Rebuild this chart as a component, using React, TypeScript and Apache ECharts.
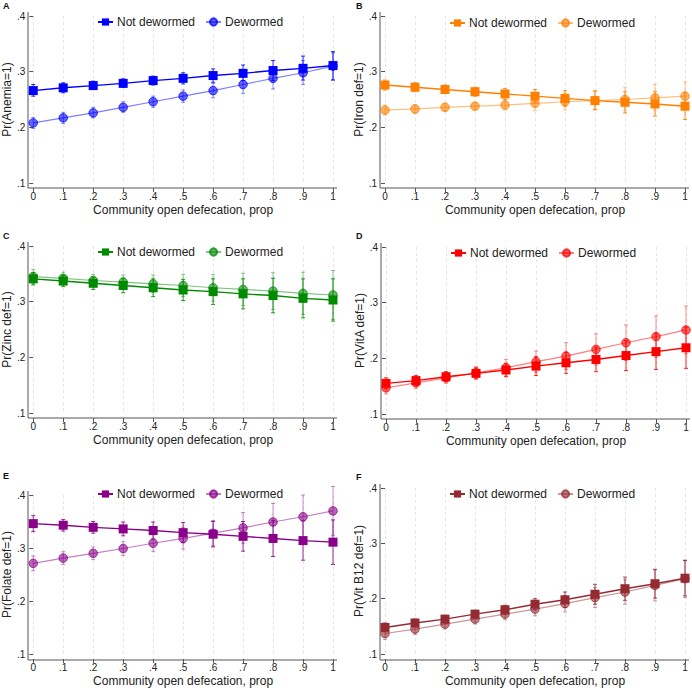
import React, { useEffect, useRef } from "react";
import * as echarts from "echarts";

// x categories (community open defecation proportion)
const xs = [0, 0.1, 0.2, 0.3, 0.4, 0.5, 0.6, 0.7, 0.8, 0.9, 1];
const groupNames = ["Not dewormed", "Dewormed"];
const xTitle = "Community open defecation, prop";
const yTicks = [0.1, 0.2, 0.3, 0.4];

// A: Anemia
const anemiaND = [0.266, 0.271, 0.275, 0.279, 0.284, 0.288, 0.293, 0.297, 0.302, 0.306, 0.311];
const anemiaNDLo = [0.256, 0.262, 0.268, 0.272, 0.276, 0.278, 0.281, 0.284, 0.284, 0.285, 0.285];
const anemiaNDHi = [0.277, 0.280, 0.283, 0.287, 0.292, 0.298, 0.305, 0.312, 0.320, 0.328, 0.336];
const anemiaD = [0.208, 0.217, 0.226, 0.236, 0.246, 0.256, 0.266, 0.277, 0.288, 0.298, 0.310];
const anemiaDLo = [0.198, 0.207, 0.217, 0.227, 0.236, 0.245, 0.253, 0.261, 0.269, 0.277, 0.285];
const anemiaDHi = [0.218, 0.227, 0.236, 0.246, 0.256, 0.267, 0.279, 0.292, 0.306, 0.320, 0.334];

// B: Iron
const ironND = [0.276, 0.272, 0.268, 0.264, 0.260, 0.256, 0.252, 0.248, 0.245, 0.242, 0.238];
const ironNDLo = [0.267, 0.264, 0.261, 0.256, 0.250, 0.244, 0.238, 0.232, 0.226, 0.220, 0.214];
const ironNDHi = [0.285, 0.280, 0.276, 0.272, 0.270, 0.268, 0.266, 0.265, 0.264, 0.264, 0.263];
const ironD = [0.231, 0.233, 0.236, 0.238, 0.240, 0.243, 0.246, 0.248, 0.250, 0.253, 0.256];
const ironDLo = [0.222, 0.225, 0.229, 0.231, 0.231, 0.230, 0.231, 0.231, 0.230, 0.230, 0.230];
const ironDHi = [0.240, 0.241, 0.243, 0.245, 0.249, 0.256, 0.262, 0.266, 0.272, 0.277, 0.282];

// C: Zinc
const zincND = [0.341, 0.337, 0.333, 0.329, 0.325, 0.321, 0.318, 0.314, 0.311, 0.306, 0.303];
const zincNDLo = [0.330, 0.327, 0.322, 0.316, 0.309, 0.302, 0.295, 0.287, 0.280, 0.271, 0.265];
const zincNDHi = [0.352, 0.347, 0.344, 0.342, 0.341, 0.340, 0.341, 0.341, 0.342, 0.341, 0.341];
const zincD = [0.345, 0.342, 0.338, 0.335, 0.332, 0.329, 0.325, 0.322, 0.319, 0.315, 0.312];
const zincDLo = [0.332, 0.331, 0.327, 0.322, 0.316, 0.309, 0.301, 0.293, 0.286, 0.277, 0.268];
const zincDHi = [0.358, 0.353, 0.349, 0.348, 0.348, 0.349, 0.349, 0.351, 0.352, 0.353, 0.356];

// D: Vitamin A
const vitaND = [0.155, 0.160, 0.167, 0.173, 0.179, 0.186, 0.192, 0.198, 0.205, 0.212, 0.219];
const vitaNDLo = [0.145, 0.151, 0.158, 0.163, 0.167, 0.169, 0.173, 0.176, 0.178, 0.180, 0.182];
const vitaNDHi = [0.165, 0.169, 0.176, 0.183, 0.191, 0.203, 0.211, 0.220, 0.232, 0.244, 0.256];
const vitaD = [0.147, 0.156, 0.165, 0.174, 0.183, 0.194, 0.204, 0.216, 0.228, 0.239, 0.251];
const vitaDLo = [0.136, 0.146, 0.155, 0.163, 0.168, 0.175, 0.180, 0.188, 0.196, 0.202, 0.208];
const vitaDHi = [0.158, 0.166, 0.175, 0.185, 0.198, 0.213, 0.228, 0.244, 0.260, 0.276, 0.294];

// E: Folate
const folateND = [0.346, 0.343, 0.339, 0.336, 0.333, 0.329, 0.326, 0.322, 0.318, 0.314, 0.311];
const folateNDLo = [0.331, 0.332, 0.328, 0.323, 0.317, 0.310, 0.302, 0.294, 0.284, 0.277, 0.269];
const folateNDHi = [0.361, 0.354, 0.350, 0.349, 0.349, 0.348, 0.350, 0.350, 0.352, 0.351, 0.353];
const folateD = [0.271, 0.281, 0.290, 0.299, 0.309, 0.318, 0.328, 0.338, 0.349, 0.359, 0.370];
const folateDLo = [0.257, 0.269, 0.278, 0.286, 0.293, 0.298, 0.304, 0.309, 0.314, 0.318, 0.324];
const folateDHi = [0.285, 0.293, 0.302, 0.312, 0.325, 0.338, 0.352, 0.367, 0.384, 0.400, 0.416];

// F: Vitamin B12
const b12ND = [0.148, 0.156, 0.163, 0.172, 0.180, 0.190, 0.198, 0.208, 0.218, 0.227, 0.237];
const b12NDLo = [0.140, 0.149, 0.156, 0.165, 0.172, 0.180, 0.184, 0.190, 0.197, 0.201, 0.205];
const b12NDHi = [0.156, 0.163, 0.170, 0.179, 0.188, 0.200, 0.212, 0.226, 0.239, 0.253, 0.269];
const b12D = [0.137, 0.145, 0.154, 0.163, 0.172, 0.181, 0.191, 0.202, 0.212, 0.224, 0.236];
const b12DLo = [0.126, 0.135, 0.145, 0.154, 0.162, 0.169, 0.176, 0.184, 0.190, 0.196, 0.202];
const b12DHi = [0.148, 0.155, 0.163, 0.172, 0.182, 0.193, 0.206, 0.220, 0.234, 0.252, 0.270];

const panels = [
  { key: "A", yTitle: "Pr(Anemia=1)", color: "#0000ff", nd: [anemiaND, anemiaNDLo, anemiaNDHi], d: [anemiaD, anemiaDLo, anemiaDHi], left: 33, top: 16, height: 167, legendY: 23, letter: [3, 1] },
  { key: "B", yTitle: "Pr(Iron def=1)", color: "#ff7f00", nd: [ironND, ironNDLo, ironNDHi], d: [ironD, ironDLo, ironDHi], left: 385, top: 16, height: 167, legendY: 24, letter: [356, 1] },
  { key: "C", yTitle: "Pr(Zinc def=1)", color: "#008a00", nd: [zincND, zincNDLo, zincNDHi], d: [zincD, zincDLo, zincDHi], left: 33, top: 246, height: 167, legendY: 253, letter: [3, 231] },
  { key: "D", yTitle: "Pr(VitA def=1)", color: "#ff0000", nd: [vitaND, vitaNDLo, vitaNDHi], d: [vitaD, vitaDLo, vitaDHi], left: 386, top: 247, height: 167, legendY: 254, letter: [356, 231] },
  { key: "E", yTitle: "Pr(Folate def=1)", color: "#8a008a", nd: [folateND, folateNDLo, folateNDHi], d: [folateD, folateDLo, folateDHi], left: 33, top: 495, height: 160, legendY: 495, letter: [3, 471] },
  { key: "F", yTitle: "Pr(Vit B12 def=1)", color: "#952b32", nd: [b12ND, b12NDLo, b12NDHi], d: [b12D, b12DLo, b12DHi], left: 385, top: 488, height: 167, legendY: 495, letter: [356, 472] },
];

const PLOT_W = 300;
const FONT = "'Liberation Sans', Arial, Helvetica, sans-serif";

function rgba(hex: string, a: number) {
  const n = parseInt(hex.slice(1), 16);
  return `rgba(${(n >> 16) & 255},${(n >> 8) & 255},${n & 255},${a})`;
}

function fmtTick(v: number) {
  const s = (Math.round(v * 10) / 10).toString();
  return s.startsWith("0.") ? s.slice(1) : s;
}

function errSeries(i: number, lo: number[], hi: number[], color: string, z: number) {
  return {
    type: "custom",
    xAxisIndex: i,
    yAxisIndex: i,
    z,
    silent: true,
    data: xs.map((x, k) => [x, lo[k], hi[k]]),
    encode: { x: 0, y: [1, 2] },
    renderItem: (params: any, api: any) => {
      const x = api.value(0);
      const a = api.coord([x, api.value(1)]);
      const b = api.coord([x, api.value(2)]);
      const c = 2;
      const style = { stroke: color, lineWidth: 1 };
      return {
        type: "group",
        children: [
          { type: "line", shape: { x1: a[0], y1: a[1], x2: b[0], y2: b[1] }, style },
          { type: "line", shape: { x1: a[0] - c, y1: a[1], x2: a[0] + c, y2: a[1] }, style },
          { type: "line", shape: { x1: b[0] - c, y1: b[1], x2: b[0] + c, y2: b[1] }, style },
        ],
      };
    },
  };
}

function buildOption() {
  const grid: any[] = [];
  const xAxis: any[] = [];
  const yAxis: any[] = [];
  const series: any[] = [];
  const legend: any[] = [];
  const graphic: any[] = [];

  panels.forEach((p, i) => {
    grid.push({ left: p.left, top: p.top, width: PLOT_W, height: p.height });
    xAxis.push({
      gridIndex: i,
      type: "value",
      min: 0,
      max: 1,
      interval: 0.1,
      offset: 5,
      axisLine: { show: false },
      axisTick: { show: true, length: 4, lineStyle: { color: "#555" } },
      axisLabel: { fontSize: 10, margin: 3, color: "#222", fontFamily: FONT, formatter: fmtTick },
      splitLine: { show: true, lineStyle: { type: [3, 3], color: "#e4e4e4", width: 1 } },
      name: xTitle,
      nameLocation: "middle",
      nameGap: 16,
      nameTextStyle: { fontSize: 12, color: "#222", fontFamily: FONT, verticalAlign: "top" },
    });
    yAxis.push({
      gridIndex: i,
      type: "value",
      min: yTicks[0],
      max: yTicks[yTicks.length - 1],
      interval: 0.1,
      offset: 5,
      axisLine: { show: false },
      axisTick: { show: true, length: 4, lineStyle: { color: "#555" } },
      axisLabel: { fontSize: 10, margin: 3, color: "#222", fontFamily: FONT, formatter: fmtTick },
      splitLine: { show: false },
      name: p.yTitle,
      nameLocation: "middle",
      nameGap: 8,
      nameTextStyle: { fontSize: 12, color: "#222", fontFamily: FONT },
    });

    const light = rgba(p.color, 0.6);
    series.push(errSeries(i, p.nd[1], p.nd[2], rgba(p.color, 0.85), 2));
    series.push(errSeries(i, p.d[1], p.d[2], rgba(p.color, 0.45), 2));
    series.push({
      type: "line",
      name: `${p.key}|${groupNames[0]}`,
      xAxisIndex: i,
      yAxisIndex: i,
      z: 4,
      data: xs.map((x, k) => [x, p.nd[0][k]]),
      symbol: "rect",
      symbolSize: 9,
      lineStyle: { color: p.color, width: 1.4 },
      itemStyle: { color: p.color, borderWidth: 0 },
      emphasis: { disabled: true },
    });
    series.push({
      type: "line",
      name: `${p.key}|${groupNames[1]}`,
      xAxisIndex: i,
      yAxisIndex: i,
      z: 3,
      data: xs.map((x, k) => [x, p.d[0][k]]),
      symbol: "circle",
      symbolSize: 8.5,
      lineStyle: { color: rgba(p.color, 0.5), width: 1.2 },
      itemStyle: { color: light, borderColor: rgba(p.color, 0.75), borderWidth: 1 },
      emphasis: { disabled: true },
    });

    legend.push({
      data: groupNames.map((g) => `${p.key}|${g}`),
      formatter: (n: string) => n.split("|")[1],
      left: p.left + 64,
      top: p.legendY - 7,
      itemWidth: 15,
      itemHeight: 9,
      itemGap: 10,
      selectedMode: false,
      textStyle: { fontSize: 12, color: "#222", fontFamily: FONT, padding: [0, 0, 0, -1] },
      padding: 0,
    });

    const bottom = p.top + p.height;
    const axX = p.left - 5;
    const axY = bottom + 5;
    graphic.push({
      type: "line",
      silent: true,
      shape: { x1: axX, y1: axY, x2: p.left + PLOT_W + 4, y2: axY },
      style: { stroke: "#555", lineWidth: 1 },
    });
    graphic.push({
      type: "line",
      silent: true,
      shape: { x1: axX, y1: p.top - 4, x2: axX, y2: axY },
      style: { stroke: "#555", lineWidth: 1 },
    });
    graphic.push({
      type: "text",
      left: p.letter[0],
      top: p.letter[1],
      style: { text: p.key, font: `bold 9px ${FONT}`, fill: "#111" },
    });
  });

  return {
    animation: false,
    backgroundColor: "#ffffff",
    textStyle: { fontFamily: FONT },
    grid,
    xAxis,
    yAxis,
    legend,
    series,
    graphic,
  };
}

export default function App() {
  const ref = useRef<HTMLDivElement>(null);
  useEffect(() => {
    document.body.style.margin = "0";
    if (!ref.current) return;
    const chart = echarts.init(ref.current, null, { renderer: "svg" });
    chart.setOption(buildOption() as any);
    return () => chart.dispose();
  }, []);
  return <div ref={ref} style={{ width: 692, height: 688 }} />;
}
